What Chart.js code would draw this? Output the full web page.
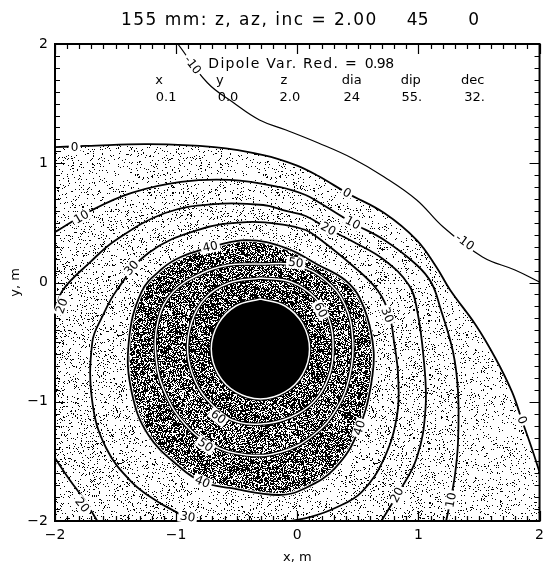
<!DOCTYPE html>
<html>
<head>
<meta charset="utf-8">
<script src="https://cdn.jsdelivr.net/npm/chart.js@4.4.1/dist/chart.umd.min.js"></script>
<style>
  html, body { margin: 0; padding: 0; background: #fff; }
  #wrap { width: 550px; height: 570px; }
</style>
</head>
<body>
<div id="wrap"><canvas id="c" width="550" height="570"></canvas></div>
<script>
// ---- contour levels and traced isolines, [x, y] in metres ----
const levels = [-10, 0, 10, 20, 30, 40, 50, 60, 70];

const contourMinus10 = [[-0.986, 2.0], [-0.742, 1.675], [-0.523, 1.505], [-0.312, 1.363], [-0.093, 1.279],
  [0.174, 1.170], [0.450, 1.044], [0.718, 0.885], [0.986, 0.692], [1.205, 0.465], [1.529, 0.214],
  [1.797, 0.105], [2.0, 0.004]];

const contour0 = [[-2.0, 1.136], [-1.740, 1.145], [-1.229, 1.161], [-0.686, 1.136], [-0.280, 1.069],
  [-0.012, 0.985], [0.174, 0.893], [0.410, 0.751], [0.718, 0.583], [0.986, 0.356], [1.148, 0.130],
  [1.262, -0.063], [1.473, -0.356], [1.635, -0.633], [1.773, -0.918], [1.854, -1.153], [1.935, -1.388],
  [2.0, -1.589]];

const contour10 = [[-2.0, 0.423], [-1.692, 0.608], [-1.367, 0.751], [-0.961, 0.843], [-0.556, 0.860],
  [-0.150, 0.801], [0.069, 0.734], [0.174, 0.675], [0.458, 0.499], [0.718, 0.356], [0.986, 0.147],
  [1.108, -0.004], [1.181, -0.214], [1.286, -0.583], [1.327, -0.918], [1.327, -1.338], [1.302, -1.614],
  [1.262, -1.841], [1.229, -2.0]];

const contour20 = [[-2.0, -0.247], [-1.935, -0.063], [-1.716, 0.164], [-1.497, 0.356], [-1.091, 0.583],
  [-0.686, 0.658], [-0.280, 0.650], [-0.093, 0.600], [0.069, 0.558], [0.256, 0.449], [0.450, 0.348],
  [0.718, 0.189], [0.921, -0.021], [0.986, -0.214], [1.043, -0.633], [1.059, -1.052], [0.986, -1.472],
  [0.824, -1.782], [0.694, -2.0]];

const contour20Corner = [[-2.0, -1.472], [-1.878, -1.656], [-1.757, -1.824], [-1.651, -2.0]];

const contour30 = [[-0.921, -2.0], [-0.961, -1.950], [-1.148, -1.841], [-1.367, -1.673], [-1.578, -1.388],
  [-1.692, -1.002], [-1.692, -0.499], [-1.611, -0.289], [-1.489, -0.063], [-1.229, 0.247], [-0.824, 0.440],
  [-0.418, 0.507], [-0.093, 0.482], [0.069, 0.440], [0.174, 0.373], [0.450, 0.147], [0.661, -0.063],
  [0.759, -0.273], [0.799, -0.499], [0.832, -0.776], [0.824, -1.111], [0.718, -1.472], [0.531, -1.757],
  [0.312, -1.891], [0.110, -1.966], [-0.053, -2.0]];

const contour40 = [[-0.718, 0.298], [-0.418, 0.356], [-0.093, 0.289], [0.174, 0.147], [0.394, 0.021],
  [0.515, -0.130], [0.613, -0.440], [0.621, -0.776], [0.499, -1.254], [0.312, -1.556], [0.069, -1.723],
  [-0.150, -1.782], [-0.556, -1.723], [-0.783, -1.673], [-0.961, -1.556], [-1.229, -1.279], [-1.367, -0.918],
  [-1.391, -0.499], [-1.286, -0.080], [-1.108, 0.122], [-0.961, 0.214]];

const contour50 = [[-0.320, 0.155], [-0.012, 0.147], [0.231, 0.021], [0.394, -0.189], [0.458, -0.482],
  [0.434, -0.776], [0.329, -1.052], [0.134, -1.279], [-0.134, -1.421], [-0.418, -1.446], [-0.702, -1.363],
  [-0.921, -1.195], [-1.083, -0.943], [-1.164, -0.650], [-1.148, -0.314], [-1.026, -0.080], [-0.783, 0.080],
  [-0.564, 0.147]];

const contour60 = [[-0.304, 0.038], [-0.053, 0.004], [0.150, -0.130], [0.264, -0.314], [0.296, -0.549],
  [0.256, -0.801], [0.134, -1.002], [-0.053, -1.128], [-0.296, -1.187], [-0.540, -1.153], [-0.702, -1.027],
  [-0.840, -0.834], [-0.905, -0.583], [-0.872, -0.331], [-0.759, -0.130], [-0.564, -0.004]];

const contour70 = [[-0.304, -0.138], [-0.101, -0.197], [0.045, -0.348], [0.101, -0.558], [0.045, -0.768],
  [-0.101, -0.918], [-0.304, -0.977], [-0.507, -0.918], [-0.653, -0.768], [-0.710, -0.558], [-0.653, -0.348],
  [-0.507, -0.197]];

// level labels placed along the isolines: [text, x, y, angle in degrees]
const contourLabels = [
  ['-10', -0.864, 1.824, 52], ['-10', 1.383, 0.340, 36],
  ['0', -1.838, 1.136, 0], ['0', 0.410, 0.751, 30], ['0', 1.854, -1.153, 70],
  ['10', -1.781, 0.549, -30], ['10', 0.458, 0.499, 28], ['10', 1.270, -1.824, -80],
  ['20', 0.256, 0.449, 28], ['20', -1.943, -0.197, -70], ['20', -1.777, -1.866, 52], ['20', 0.824, -1.782, -62],
  ['30', -1.367, 0.122, -48], ['30', 0.742, -0.273, 68], ['30', -0.905, -1.966, 10],
  ['40', -0.718, 0.298, -12], ['40', 0.515, -1.220, -72], ['40', -0.783, -1.673, 22],
  ['50', -0.012, 0.164, 8], ['50', -0.759, -1.363, 35],
  ['60', 0.191, -0.231, 62], ['60', -0.653, -1.128, 38]
];

// dipole fit summary
const titleMain = '155 mm: z, az, inc = 2.00';
const titleAngles = ['45', '0'];
const fitLabel = 'Dipole Var. Red. =';
const fitValue = '0.98';
const paramNames = ['x', 'y', 'z', 'dia', 'dip', 'dec'];
const paramValues = ['0.1', '0.0', '2.0', '24', '55.', '32.'];
const axisTicks = [-2, -1, 0, 1, 2];

// ---- drawing ----
const FONT = '"DejaVu Sans", "Liberation Sans", sans-serif';
Chart.defaults.font.family = FONT;
Chart.defaults.color = '#000';

const canvas = document.getElementById('c');
const ctx0 = canvas.getContext('2d');

function hash2(x, y, s) {
  let h = Math.imul(x, 374761393) ^ Math.imul(y, 668265263) ^ Math.imul(s, 2246822519);
  h = Math.imul(h ^ (h >>> 13), 1274126177);
  h ^= h >>> 16;
  return (h >>> 0) / 4294967296;
}

// grainy dot texture used for the shaded bands
function stipple(density, seed) {
  const n = 128;
  const tile = document.createElement('canvas');
  tile.width = n; tile.height = n;
  const g = tile.getContext('2d');
  const img = g.createImageData(n, n);
  for (let yy = 0; yy < n; yy++) {
    for (let xx = 0; xx < n; xx++) {
      const v = hash2(xx, yy, seed) < density ? 0 : 255;
      const i = (yy * n + xx) * 4;
      img.data[i] = img.data[i + 1] = img.data[i + 2] = v;
      img.data[i + 3] = 255;
    }
  }
  g.putImageData(img, 0, 0);
  return ctx0.createPattern(tile, 'repeat');
}

const bandFills = [
  stipple(0.07, 11), stipple(0.09, 23), stipple(0.10, 37), stipple(0.09, 41),
  stipple(0.60, 53), stipple(0.56, 67), stipple(0.63, 79), '#000'
];

const xy = arr => arr.map(p => ({ x: p[0], y: p[1] }));
const closed = arr => arr.concat([arr[0]]);

// areas above each level, bounded by the frame where an isoline leaves it
const regions = [
  contour0.concat([[2, -2], [-2, -2]]),
  contour10.concat([[-2, -2]]),
  contour20.concat(contour20Corner.slice().reverse()),
  contour30,
  contour40, contour50, contour60, contour70
];

const TENSION = 0.4;
const datasets = [];
regions.forEach((r, i) => {
  datasets.push({
    data: xy(closed(r)), fill: 'shape', backgroundColor: bandFills[i],
    borderWidth: 0, pointRadius: 0, tension: TENSION, order: 200 - i
  });
});

function lineSet(arr, color, width, order, isClosed) {
  return {
    data: xy(isClosed ? closed(arr) : arr), fill: false, borderColor: color, borderWidth: width,
    pointRadius: 0, tension: TENSION, order: order
  };
}

datasets.push(lineSet(contourMinus10, '#000', 1.2, 50, false));
[contour0, contour10, contour20, contour20Corner, contour30].forEach(c => {
  datasets.push(lineSet(c, '#000', 1.8, 50, false));
});
datasets.push(lineSet(contour40, '#fff', 3.6, 60, true));
datasets.push(lineSet(contour40, '#000', 1.8, 50, true));
[contour50, contour60, contour70].forEach(c => {
  datasets.push(lineSet(c, '#000', 3.6, 60, true));
  datasets.push(lineSet(c, '#fff', 1.5, 50, true));
});

// inward tick marks and plot frame
const framePlugin = {
  id: 'frame',
  afterDatasetsDraw(chart) {
    const { ctx, chartArea: a, scales: { x, y } } = chart;
    ctx.save();
    ctx.strokeStyle = '#000';
    ctx.lineWidth = 1.2;
    ctx.beginPath();
    for (let i = -20; i <= 20; i++) {
      const v = i / 10;
      const len = i % 10 === 0 ? 10 : 5;
      const px = Math.round(x.getPixelForValue(v)) + 0.5;
      const py = Math.round(y.getPixelForValue(v)) + 0.5;
      ctx.moveTo(px, a.bottom); ctx.lineTo(px, a.bottom - len);
      ctx.moveTo(px, a.top); ctx.lineTo(px, a.top + len);
      ctx.moveTo(a.left, py); ctx.lineTo(a.left + len, py);
      ctx.moveTo(a.right, py); ctx.lineTo(a.right - len, py);
    }
    ctx.stroke();
    ctx.lineWidth = 2;
    ctx.strokeRect(a.left, a.top, a.right - a.left, a.bottom - a.top);
    ctx.restore();
  }
};

// level numbers set into gaps of the isolines
const labelPlugin = {
  id: 'levelLabels',
  afterDatasetsDraw(chart) {
    const { ctx, scales: { x, y } } = chart;
    ctx.save();
    ctx.font = '12px ' + FONT;
    ctx.textAlign = 'center';
    ctx.textBaseline = 'middle';
    contourLabels.forEach(([t, lx, ly, ang]) => {
      const px = x.getPixelForValue(lx);
      const py = y.getPixelForValue(ly);
      ctx.save();
      ctx.translate(px, py);
      ctx.rotate(ang * Math.PI / 180);
      const w = ctx.measureText(t).width;
      ctx.fillStyle = '#fff';
      ctx.fillRect(-w / 2 - 2, -6, w + 4, 12);
      ctx.fillStyle = '#000';
      ctx.fillText(t, 0, 0.5);
      ctx.restore();
    });
    ctx.restore();
  }
};

// left-aligned text stretched to a given width
function spread(ctx, text, x0, x1, yMid) {
  ctx.letterSpacing = '0px';
  const w = ctx.measureText(text).width;
  const n = [...text].length;
  const sp = n > 1 ? (x1 - x0 - w) / (n - 1) : 0;
  ctx.letterSpacing = sp.toFixed(2) + 'px';
  ctx.textAlign = 'left';
  ctx.fillText(text, x0, yMid);
  ctx.letterSpacing = '0px';
}

const textPlugin = {
  id: 'fitText',
  afterDraw(chart) {
    const { ctx, chartArea: a, scales: { x, y } } = chart;
    ctx.save();
    ctx.fillStyle = '#000';
    ctx.textBaseline = 'middle';
    // title line
    ctx.font = '17px ' + FONT;
    const ty = a.top - 23;
    spread(ctx, titleMain, x.getPixelForValue(-1.456), x.getPixelForValue(0.653), ty);
    ctx.textAlign = 'center';
    ctx.fillText(titleAngles[0], x.getPixelForValue(0.994), ty);
    ctx.fillText(titleAngles[1], x.getPixelForValue(1.456), ty);
    // fit summary inside the frame
    ctx.font = '14px ' + FONT;
    const r1 = y.getPixelForValue(1.832);
    const r2 = y.getPixelForValue(1.690);
    const r3 = y.getPixelForValue(1.547);
    spread(ctx, fitLabel, x.getPixelForValue(-0.734), x.getPixelForValue(0.491), r1);
    spread(ctx, fitValue, x.getPixelForValue(0.556), x.getPixelForValue(0.799), r1);
    ctx.font = '13px ' + FONT;
    const headX = [-1.140, -0.640, -0.110, 0.450, 0.937, 1.448];
    const valX = [-1.083, -0.572, -0.061, 0.450, 0.945, 1.464];
    ctx.textAlign = 'center';
    paramNames.forEach((t, i) => ctx.fillText(t, x.getPixelForValue(headX[i]), r2));
    paramValues.forEach((t, i) => ctx.fillText(t, x.getPixelForValue(valX[i]), r3));
    ctx.restore();
  }
};

const fmt = v => (v < 0 ? '\u2212' + Math.abs(v) : String(v));

new Chart(canvas, {
  type: 'line',
  data: { datasets },
  options: {
    responsive: false,
    animation: false,
    events: [],
    layout: { padding: { top: 44, right: 2, left: 0, bottom: 0 } },
    plugins: { legend: { display: false }, tooltip: { enabled: false }, title: { display: false } },
    scales: {
      x: {
        type: 'linear', min: -2, max: 2,
        afterBuildTicks: s => { s.ticks = axisTicks.map(v => ({ value: v })); },
        afterFit: s => { s.height = 49; },
        grid: { display: false, drawTicks: false },
        border: { display: false },
        ticks: { font: { size: 14 }, padding: 6, maxRotation: 0, callback: fmt },
        title: { display: true, text: 'x, m', font: { size: 13 }, padding: { top: 0, bottom: 5 } }
      },
      y: {
        type: 'linear', min: -2, max: 2,
        afterBuildTicks: s => { s.ticks = axisTicks.map(v => ({ value: v })); },
        afterFit: s => { s.width = 55; },
        grid: { display: false, drawTicks: false },
        border: { display: false },
        ticks: { font: { size: 14 }, padding: 7, callback: fmt },
        title: { display: true, text: 'y, m', font: { size: 13 }, padding: { top: 8, bottom: 0 } }
      }
    }
  },
  plugins: [framePlugin, labelPlugin, textPlugin]
});
</script>
</body>
</html>
